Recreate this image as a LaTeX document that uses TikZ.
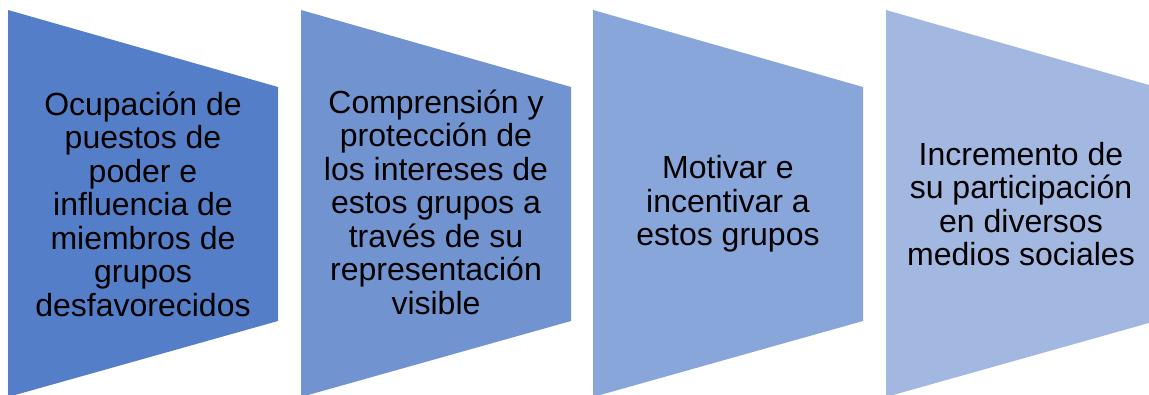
\documentclass[tikz,border=0pt]{standalone}
\usepackage{fontspec}
\setmainfont{Liberation Sans}
\definecolor{bandA}{RGB}{84,127,200}
\definecolor{bandB}{RGB}{113,148,208}
\definecolor{bandC}{RGB}{137,166,218}
\definecolor{bandD}{RGB}{162,184,225}

\begin{document}
\begin{tikzpicture}[x=1pt,y=-1pt,
    txt/.style={align=center,text=black,font=\fontsize{32}{33.5}\selectfont}]
    \useasboundingbox (0,0) rectangle (1149,395);
    \clip (0,0) rectangle (1149,395);
    % bands
    \fill[bandA] (8,10) -- (278,87) -- (278,321) -- (8,397) -- cycle;
    \fill[bandB] (301,10) -- (571,87) -- (571,321) -- (301,397) -- cycle;
    \fill[bandC] (593,10) -- (863,87) -- (863,321) -- (593,397) -- cycle;
    \fill[bandD] (886,10) -- (1156,87) -- (1156,321) -- (886,397) -- cycle;
    % texts
    \node[txt] (ocupacion) at (143,204) {Ocupación de\\puestos de\\poder e\\influencia de\\miembros de\\grupos\\desfavorecidos};
    \node[txt] (comprension) at (436,202) {Comprensión y\\protección de\\los intereses de\\estos grupos a\\través de su\\representación\\visible};
    \node[txt] (motivar) at (728,204) {Motivar e\\incentivar a\\estos grupos};
    \node[txt] (incremento) at (1021,204) {Incremento de\\su participación\\en diversos\\medios sociales};
\end{tikzpicture}
\end{document}
